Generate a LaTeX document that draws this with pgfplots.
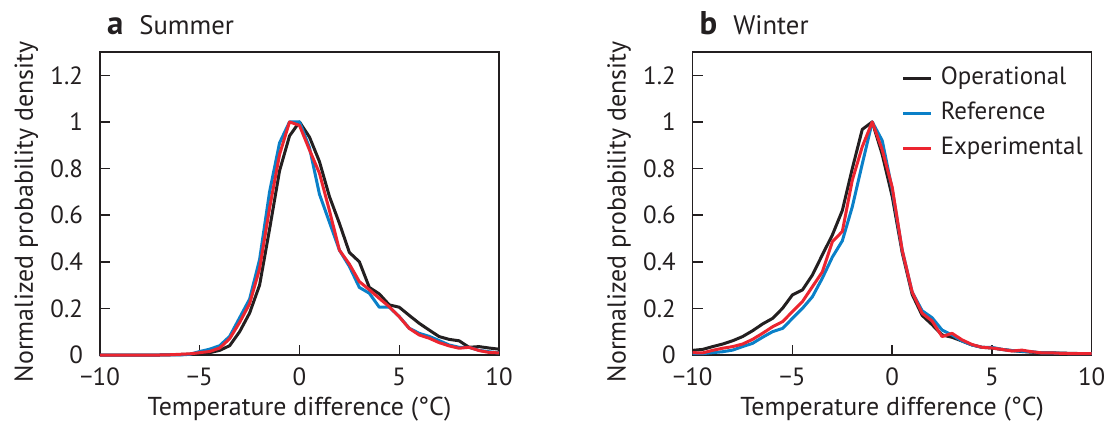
\documentclass[border=0pt]{standalone}
\usepackage{fontspec}
\setmainfont{PT Sans}
\usepackage{pgfplots}
\usepackage{pgfplotstable}
\pgfplotsset{compat=1.18}

\definecolor{opblack}{HTML}{231F20}
\definecolor{refblue}{HTML}{0A80C8}
\definecolor{expred}{HTML}{EC2530}

% columns: temperature difference, operational, reference, experimental
\pgfplotstableread{
x     op     ref    exp
-10   0      0      0
-9.5  0      0      0
-9    0      0      0
-8.5  0      0      0
-8    0      0      0
-7.5  0      0      0
-7    0      0      0
-6.5  0.001  0.001  0.001
-6    0.002  0      0.003
-5.5  0.003  0.003  0.005
-5    0.005  0.015  0.01
-4.5  0.01   0.025  0.015
-4    0.02   0.04   0.03
-3.5  0.04   0.08   0.07
-3    0.10   0.16   0.14
-2.5  0.18   0.24   0.22
-2    0.30   0.41   0.37
-1.5  0.54   0.70   0.63
-1    0.79   0.91   0.86
-0.5  0.94   1.0    1.0
0     1.0    1.0    0.985
0.5   0.935  0.89   0.88
1     0.83   0.69   0.78
1.5   0.68   0.57   0.62
2     0.565  0.45   0.45
2.5   0.44   0.38   0.39
3     0.40   0.29   0.315
3.5   0.29   0.265  0.28
4     0.262  0.205  0.243
4.5   0.215  0.205  0.207
5     0.205  0.165  0.164
5.5   0.17   0.115  0.114
6     0.136  0.093  0.086
6.5   0.107  0.08   0.072
7     0.079  0.062  0.053
7.5   0.067  0.043  0.039
8     0.061  0.033  0.029
8.5   0.033  0.033  0.033
9     0.036  0.02   0.019
9.5   0.03   0.014  0.011
10    0.025  0.009  0.009
}\summer

\pgfplotstableread{
x     op     ref    exp
-10   0.02   0.006  0.01
-9.5  0.024  0.006  0.009
-9    0.036  0.01   0.02
-8.5  0.047  0.014  0.029
-8    0.061  0.021  0.036
-7.5  0.079  0.036  0.047
-7    0.104  0.05   0.067
-6.5  0.133  0.076  0.093
-6    0.157  0.10   0.121
-5.5  0.20   0.114  0.143
-5    0.258  0.157  0.186
-4.5  0.279  0.20   0.229
-4    0.343  0.25   0.293
-3.5  0.43   0.33   0.357
-3    0.515  0.42   0.486
-2.5  0.62   0.49   0.53
-2    0.80   0.636  0.75
-1.5  0.968  0.82   0.894
-1    1.0    1.0    1.0
-0.5  0.86   0.92   0.88
0     0.68   0.71   0.72
0.5   0.44   0.45   0.45
1     0.26   0.27   0.27
1.5   0.17   0.19   0.179
2     0.13   0.16   0.146
2.5   0.086  0.107  0.079
3     0.076  0.086  0.093
3.5   0.06   0.06   0.065
4     0.043  0.043  0.045
4.5   0.033  0.033  0.033
5     0.03   0.033  0.03
5.5   0.024  0.024  0.024
6     0.019  0.019  0.017
6.5   0.015  0.016  0.021
7     0.012  0.014  0.014
7.5   0.009  0.009  0.009
8     0.009  0.009  0.009
8.5   0.008  0.007  0.007
9     0.007  0.006  0.006
9.5   0.006  0.006  0.006
10    0.006  0.006  0.006
}\winter

\pgfplotsset{
  panel/.style={
    width=199.5bp, height=151.5bp, scale only axis,
    xmin=-10, xmax=10, ymin=0, ymax=1.3,
    xtick={-10,-5,0,5,10}, xticklabels={−10,−5,0,5,10},
    ytick={0,0.2,0.4,0.6,0.8,1,1.2}, yticklabels={0,0.2,0.4,0.6,0.8,1,1.2},
    tick pos=left, tick align=inside, major tick length=5bp,
    axis line style={line width=0.75bp, opblack},
    tick style={line width=0.75bp, opblack},
    ticklabel style={font=\fontsize{12.5}{14}\selectfont, text=opblack},
    xticklabel style={yshift=-3bp},
    yticklabel style={xshift=-5bp},
    label style={font=\fontsize{13}{15}\selectfont, text=opblack},
    xlabel={Temperature difference (°C)},
    ylabel={Normalized probability density},
    xlabel style={at={([yshift=-30bp]axis description cs:0.5,0)}, anchor=base},
    ylabel style={at={([xshift=-33.5bp]axis description cs:0,0.472)}, anchor=base},
    every axis title shift=0pt,
    title style={at={([yshift=8.5bp]axis description cs:0,1)}, anchor=base west,
      font=\fontsize{13.4}{15}\selectfont, text=opblack},
    clip=false,
    every axis plot/.append style={line width=1.5bp, line join=round},
  },
}

\begin{document}
\begin{tikzpicture}
\path[use as bounding box] (-50bp,-34bp) rectangle (505.5bp,177.5bp);

\begin{axis}[panel, at={(0bp,0bp)}, anchor=south west,
  title={{\fontsize{16.5}{18}\selectfont\bfseries a}\hspace{8bp}Summer}]
\addplot[opblack] table[x=x, y=op] {\summer};
\addplot[refblue] table[x=x, y=ref] {\summer};
\addplot[expred] table[x=x, y=exp] {\summer};
\end{axis}

\begin{axis}[panel, at={(296.35bp,0bp)}, anchor=south west,
  title={{\fontsize{16.5}{18}\selectfont\bfseries b}\hspace{8bp}Winter},
  legend style={at={(axis description cs:0.523,0.96)}, anchor=north west,
    draw=none, fill=none, inner sep=0pt, row sep=3.5bp, column sep=3bp,
    font=\fontsize{12.5}{15}\selectfont, text=opblack,
    nodes={inner sep=1bp, text height=9bp, text depth=3bp}},
  legend cell align=left,
  legend image code/.code={\draw[#1] (0bp,0bp) -- (14bp,0bp);}]
\addplot[opblack] table[x=x, y=op] {\winter};
\addplot[refblue] table[x=x, y=ref] {\winter};
\addplot[expred] table[x=x, y=exp] {\winter};
\legend{Operational, Reference, Experimental}
\end{axis}
\end{tikzpicture}
\end{document}
